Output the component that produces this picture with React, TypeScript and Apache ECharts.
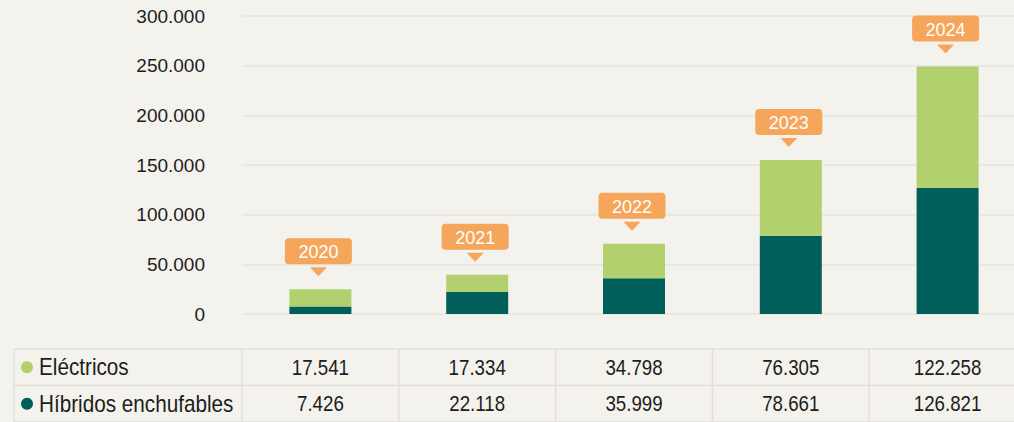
import React, { useEffect, useRef } from "react";
import * as echarts from "echarts";

const years = ["2020", "2021", "2022", "2023", "2024"];
const electricos = [17541, 17334, 34798, 76305, 122258];
const hibridos = [7426, 22118, 35999, 78661, 126821];
const seriesNames = ["Eléctricos", "Híbridos enchufables"];
const Y_MIN = 0;
const Y_MAX = 300000;
const Y_INTERVAL = 50000;

const GREEN = "#b3d06f";
const TEAL = "#005f5a";
const ORANGE = "#f5a65b";
const BG = "#f4f2ed";
const TEXT = "#1d1d1b";
const LINE = "#e2dfd8";
const FONT = "'Liberation Sans', Arial, sans-serif";

const GRID_LEFT = 242;
const GRID_TOP = 16;
const GRID_W = 784;
const GRID_H = 298;

const fmt = (v: number) => String(v).replace(/\B(?=(\d{3})+(?!\d))/g, ".");

export default function App() {
  const ref = useRef<HTMLDivElement>(null);
  useEffect(() => {
    if (!ref.current) return;
    const chart = echarts.init(ref.current, null, { renderer: "svg" });
    const colW = GRID_W / years.length;
    const tableTop = 349;
    const rowH = 36.5;
    const rowsY = [tableTop + rowH / 2, tableTop + rowH * 1.5];
    const graphics: any[] = [];
    [tableTop, tableTop + rowH, tableTop + rowH * 2].forEach((y) =>
      graphics.push({ type: "line", shape: { x1: 14, y1: y, x2: 1014, y2: y }, style: { stroke: LINE, lineWidth: 1.5 }, silent: true })
    );
    graphics.push({ type: "line", shape: { x1: 14, y1: tableTop, x2: 14, y2: 422 }, style: { stroke: LINE, lineWidth: 1.5 }, silent: true });
    years.forEach((_, i) => {
      const x = GRID_LEFT + colW * i;
      graphics.push({ type: "line", shape: { x1: x, y1: tableTop, x2: x, y2: 422 }, style: { stroke: LINE, lineWidth: 1.5 }, silent: true });
    });
    const rows = [electricos, hibridos];
    const colors = [GREEN, TEAL];
    rows.forEach((arr, r) => {
      graphics.push({ type: "circle", shape: { cx: 27, cy: rowsY[r], r: 6 }, style: { fill: colors[r] }, silent: true });
      graphics.push({
        type: "text", x: 39, y: rowsY[r], scaleX: 0.9,
        style: { text: seriesNames[r], fill: TEXT, font: `23px ${FONT}`, textVerticalAlign: "middle", textAlign: "left" },
        silent: true,
      });
      arr.forEach((v, i) => {
        graphics.push({
          type: "text", x: GRID_LEFT + colW * (i + 0.5), y: rowsY[r], scaleX: 0.85,
          style: { text: fmt(v), fill: TEXT, font: `22px ${FONT}`, textVerticalAlign: "middle", textAlign: "center" },
          silent: true,
        });
      });
    });

    chart.setOption({
      animation: false,
      backgroundColor: BG,
      grid: { left: GRID_LEFT, top: GRID_TOP, width: GRID_W, height: GRID_H, outerBoundsMode: "none" },
      xAxis: {
        type: "category",
        data: years,
        axisLine: { show: false },
        axisTick: { show: false },
        axisLabel: { show: false },
      },
      yAxis: {
        type: "value",
        min: Y_MIN,
        max: Y_MAX,
        interval: Y_INTERVAL,
        axisLine: { show: false },
        axisTick: { show: false },
        splitLine: { lineStyle: { color: "#e6e3dd", width: 1.5 } },
        axisLabel: {
          margin: 37,
          color: TEXT,
          fontSize: 19,
          fontFamily: FONT,
          formatter: (v: number) => fmt(v),
        },
      },
      series: [
        {
          name: seriesNames[1],
          type: "bar",
          stack: "total",
          data: hibridos,
          barWidth: 62,
          itemStyle: { color: TEAL },
        },
        {
          name: seriesNames[0],
          type: "bar",
          stack: "total",
          data: electricos,
          barWidth: 62,
          itemStyle: { color: GREEN },
        },
        {
          type: "custom",
          coordinateSystem: "cartesian2d",
          silent: true,
          z: 10,
          encode: { x: 0, y: 1 },
          data: years.map((y, i) => [i, electricos[i] + hibridos[i]]),
          renderItem: (params: any, api: any) => {
            const p = api.coord([api.value(0), api.value(1)]);
            const cx = p[0] - 2;
            const tip = p[1] - 13;
            const triTop = tip - 9;
            const boxBottom = triTop - 3;
            const boxH = 26;
            const boxW = 67;
            const label = years[params.dataIndex];
            return {
              type: "group",
              children: [
                {
                  type: "polygon",
                  shape: { points: [[cx - 8.5, triTop], [cx + 8.5, triTop], [cx, tip]] },
                  style: { fill: ORANGE },
                },
                {
                  type: "rect",
                  shape: { x: cx - boxW / 2, y: boxBottom - boxH, width: boxW, height: boxH, r: 4 },
                  style: { fill: ORANGE },
                },
                {
                  type: "text",
                  x: cx,
                  y: boxBottom - boxH / 2 + 1,
                  style: {
                    text: label,
                    fill: "#ffffff",
                    font: `18px ${FONT}`,
                    textAlign: "center",
                    textVerticalAlign: "middle",
                  },
                },
              ],
            };
          },
        },
      ],
      graphic: graphics,
    });
    return () => chart.dispose();
  }, []);
  return (
    <div
      ref={ref}
      style={{ position: "fixed", left: 0, top: 0, width: 1014, height: 422 }}
    />
  );
}
